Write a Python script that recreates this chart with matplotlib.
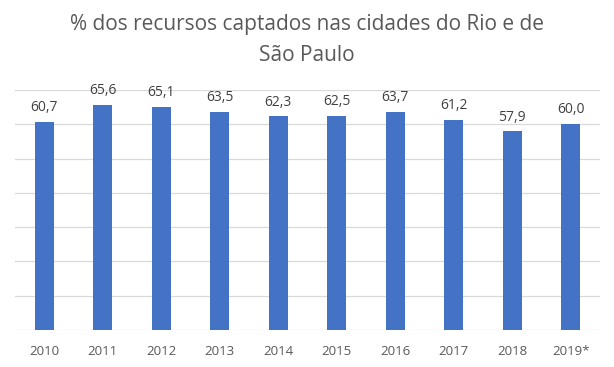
import matplotlib.pyplot as plt

# data
anos = ["2010", "2011", "2012", "2013", "2014", "2015", "2016", "2017", "2018", "2019*"]
valores = [60.7, 65.6, 65.1, 63.5, 62.3, 62.5, 63.7, 61.2, 57.9, 60.0]

plt.rcParams['font.family'] = ['Open Sans', 'DejaVu Sans']

fig = plt.figure(figsize=(6.14, 3.67), dpi=100)
ax = fig.add_axes([0.0244, 0.1008, 0.9526, 0.6540])

x = range(len(anos))
bars = ax.bar(x, valores, width=0.32, color='#4472C4', zorder=3)

for xi, v in zip(x, valores):
    ax.text(xi, v + 2.0, f"{v:.1f}".replace(".", ","), ha='center', va='bottom',
            fontsize=10, color='#404040')

ax.set_xlim(-0.5, len(anos) - 0.5)
ax.set_ylim(0, 70)
ax.set_yticks(range(0, 71, 10))
ax.yaxis.grid(True, color='#d9d9d9', linewidth=0.9, zorder=0)
ax.tick_params(axis='y', left=False, labelleft=False)
ax.tick_params(axis='x', bottom=False, labelsize=9.5, labelcolor='#595959', pad=7)
ax.set_xticks(list(x))
ax.set_xticklabels(anos)
for s in ax.spines.values():
    s.set_visible(False)

fig.text(0.5, 0.962, "% dos recursos captados nas cidades do Rio e de\nSão Paulo",
         ha='center', va='top', fontsize=15, color='#595959', linespacing=1.6)

# save output
plt.savefig("out.png")
